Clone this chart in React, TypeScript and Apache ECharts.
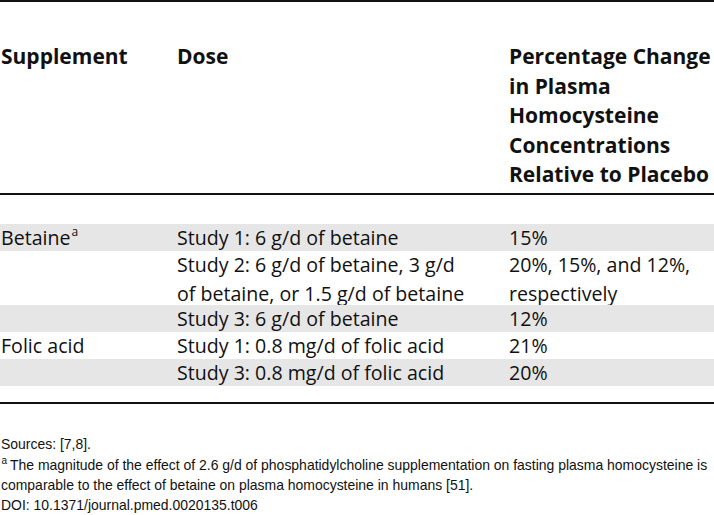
import React, { useEffect, useRef } from "react";
import * as echarts from "echarts";

const headers = ["Supplement", "Dose", "Percentage Change\nin Plasma\nHomocysteine\nConcentrations\nRelative to Placebo"];
const supplements = ["Betaine", "", "", "Folic acid", ""];
const supplementNotes = ["a", "", "", "", ""];
const doses = [
  "Study 1: 6 g/d of betaine",
  "Study 2: 6 g/d of betaine, 3 g/d\nof betaine, or 1.5 g/d of betaine",
  "Study 3: 6 g/d of betaine",
  "Study 1: 0.8 mg/d of folic acid",
  "Study 3: 0.8 mg/d of folic acid",
];
const changes = ["15%", "20%, 15%, and 12%,\nrespectively", "12%", "21%", "20%"];
const footLines = [
  "Sources: [7,8].",
  "The magnitude of the effect of 2.6 g/d of phosphatidylcholine supplementation on fasting plasma homocysteine is",
  "comparable to the effect of betaine on plasma homocysteine in humans [51].",
  "DOI: 10.1371/journal.pmed.0020135.t006",
];
const footNotes = ["", "a", "", ""];

const W = 714;
const H = 515;
const BODY_FONT = "'Open Sans', 'Noto Sans', sans-serif";
const FOOT_FONT = "'Liberation Sans', Arial, sans-serif";

function measure(text: string, font: string): number {
  const c = document.createElement("canvas").getContext("2d");
  if (!c) return text.length * 8;
  c.font = font;
  return c.measureText(text).width;
}

export default function App() {
  const ref = useRef<HTMLDivElement>(null);
  useEffect(() => {
    document.body.style.margin = "0";
    if (!ref.current) return;
    const chart = echarts.init(ref.current, undefined, { renderer: "svg" });
    const colX = [1, 177, 509];
    const els: any[] = [];
    const ink = "#111";

    // rules
    els.push({ type: "rect", shape: { x: 0, y: 0, width: W, height: 2 }, style: { fill: ink } });
    els.push({ type: "rect", shape: { x: 0, y: 193, width: W, height: 2 }, style: { fill: ink } });
    els.push({ type: "rect", shape: { x: 0, y: 402, width: W, height: 2 }, style: { fill: ink } });

    // header
    const hLine = 29.6;
    headers.forEach((h, i) => {
      els.push({
        type: "text",
        x: colX[i],
        y: 56 - hLine / 2,
        style: {
          text: h,
          font: `bold 21px ${BODY_FONT}`,
          fill: ink,
          verticalAlign: "top",
          lineHeight: hLine,
        },
      });
    });

    // body rows
    const bodyFont = `19.6px ${BODY_FONT}`;
    const lineH = 29;
    let y = 224;
    doses.forEach((d, i) => {
      const nLines = Math.max(d.split("\n").length, changes[i].split("\n").length);
      const rh = 27 + (nLines - 1) * 27;
      if (i % 2 === 0) {
        els.push({ type: "rect", shape: { x: 0, y, width: W, height: rh }, style: { fill: "#e6e6e6" } });
      }
      const ty = y + 13.5;
      const cells = [supplements[i], d, changes[i]];
      cells.forEach((c, j) => {
        if (!c) return;
        els.push({
          type: "text",
          x: colX[j],
          y: ty - lineH / 2,
          style: {
            text: c,
            font: bodyFont,
            fill: ink,
            verticalAlign: "top",
            lineHeight: lineH,
          },
        });
      });
      if (supplementNotes[i]) {
        const w = measure(supplements[i], bodyFont);
        els.push({
          type: "text",
          x: colX[0] + w + 1,
          y: ty - 6,
          style: { text: supplementNotes[i], font: `12px ${BODY_FONT}`, fill: ink, verticalAlign: "middle" },
        });
      }
      y += rh;
    });

    // footnotes, horizontally condensed to match the reference's narrow face
    const footFont = `14px ${FOOT_FONT}`;
    const sx = 698 / measure(footLines[1], footFont);
    const footY = [444, 464.5, 485, 505];
    footLines.forEach((t, i) => {
      const x = footNotes[i] ? 10 : 1;
      els.push({
        type: "text",
        x,
        y: footY[i],
        scaleX: sx,
        style: { text: t, font: footFont, fill: ink, verticalAlign: "middle" },
      });
      if (footNotes[i]) {
        els.push({
          type: "text",
          x: 1.5,
          y: footY[i] - 4,
          scaleX: sx,
          style: { text: footNotes[i], font: `10px ${FOOT_FONT}`, fill: ink, verticalAlign: "middle" },
        });
      }
    });

    chart.setOption({
      animation: false,
      backgroundColor: "#ffffff",
      graphic: { elements: els },
    });
    return () => chart.dispose();
  }, []);
  return <div ref={ref} style={{ width: W, height: H }} />;
}
